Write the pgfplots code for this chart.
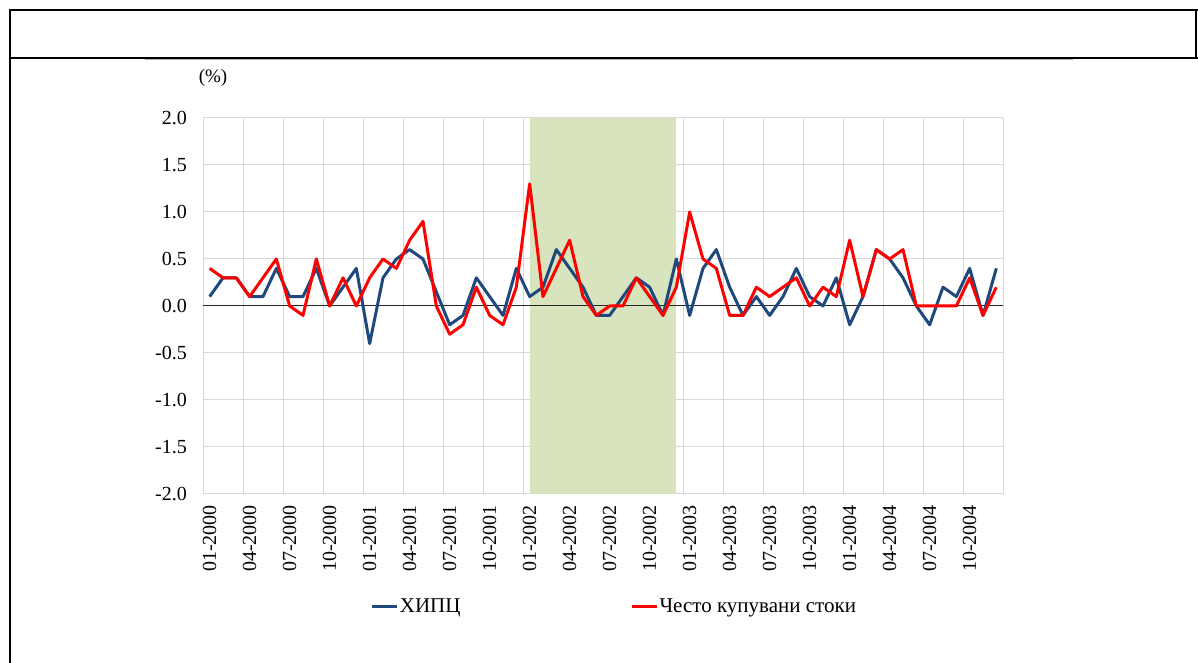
\documentclass[border=0pt]{standalone}
\usepackage{fontspec}
\setmainfont{Liberation Serif}
\usepackage{pgfplots}
\usepackage{pgfplotstable}
\pgfplotsset{compat=1.18}
\definecolor{hicp}{HTML}{1F497D}
\definecolor{shade}{HTML}{D7E4BD}
\definecolor{gridc}{HTML}{D9D9D9}
\pgfplotstableread{
i hicp food
0 0.1 0.4
1 0.3 0.3
2 0.3 0.3
3 0.1 0.1
4 0.1 0.3
5 0.4 0.5
6 0.1 0.0
7 0.1 -0.1
8 0.4 0.5
9 0.0 0.0
10 0.2 0.3
11 0.4 0.0
12 -0.4 0.3
13 0.3 0.5
14 0.5 0.4
15 0.6 0.7
16 0.5 0.9
17 0.15 0.0
18 -0.2 -0.3
19 -0.1 -0.2
20 0.3 0.2
21 0.1 -0.1
22 -0.1 -0.2
23 0.4 0.2
24 0.1 1.3
25 0.2 0.1
26 0.6 0.4
27 0.4 0.7
28 0.2 0.1
29 -0.1 -0.1
30 -0.1 0.0
31 0.1 0.0
32 0.3 0.3
33 0.2 0.1
34 -0.1 -0.1
35 0.5 0.2
36 -0.1 1.0
37 0.4 0.5
38 0.6 0.4
39 0.2 -0.1
40 -0.1 -0.1
41 0.1 0.2
42 -0.1 0.1
43 0.1 0.2
44 0.4 0.3
45 0.1 0.0
46 0.0 0.2
47 0.3 0.1
48 -0.2 0.7
49 0.1 0.1
50 0.6 0.6
51 0.5 0.5
52 0.3 0.6
53 0.0 0.0
54 -0.2 0.0
55 0.2 0.0
56 0.1 0.0
57 0.4 0.3
58 -0.1 -0.1
59 0.4 0.2
}\datatable
\begin{document}
\begin{tikzpicture}[x=1pt,y=1pt]
\useasboundingbox (0,0) rectangle (1198,663);
% frame
\draw[line width=2.5pt] (10,0) -- (10,653) -- (1198,653);
\draw[line width=2.5pt] (10,605) -- (1198,605);
\draw[line width=2pt] (1196,653) -- (1196,605);
\draw[gray!60, line width=1pt] (145,603) -- (1073,603);
\node[font=\fontsize{19}{21}\selectfont] at (213,585) {(\%)};
\begin{axis}[
  at={(203pt,169pt)}, anchor=south west,
  width=800pt, height=376pt, scale only axis,
  xmin=-0.5, xmax=59.5, ymin=-2, ymax=2,
  axis line style={draw=none},
  major tick length=0pt, minor tick length=0pt,
  xtick={0,3,...,57},
  xticklabels={01-2000,04-2000,07-2000,10-2000,01-2001,04-2001,07-2001,10-2001,01-2002,04-2002,07-2002,10-2002,01-2003,04-2003,07-2003,10-2003,01-2004,04-2004,07-2004,10-2004},
  minor xtick={-0.5,2.5,...,59.5},
  xmajorgrids=false, xminorgrids=true,
  ytick={-2,-1.5,...,2},
  yticklabels={-2.0,-1.5,-1.0,-0.5,0.0,0.5,1.0,1.5,2.0},
  ymajorgrids=true,
  grid style={gridc, line width=1pt},
  minor grid style={gridc, line width=1pt},
  xticklabel style={rotate=90, anchor=east, inner sep=0pt, font=\fontsize{20}{22}\selectfont},
  xticklabel shift=11pt,
  yticklabel style={anchor=east, inner sep=0pt, font=\fontsize{20}{22}\selectfont},
  yticklabel shift=16pt,
  legend columns=2,
  legend style={at={(0.209,-0.298)}, anchor=west, draw=none, fill=none, inner sep=0pt,
     font=\fontsize{21}{23}\selectfont,
     /tikz/every even column/.append style={column sep=168pt},
     nodes={inner sep=1.5pt}},
  legend cell align=left,
  legend image code/.code={\draw[#1,line width=3pt] (0pt,0pt) -- (25pt,0pt);},
]
\addplot[draw=none, fill=shade, forget plot] coordinates {(24,-2) (24,2) (35,2) (35,-2)} -- cycle;
\addplot[black!85, line width=1pt, forget plot] coordinates {(-0.5,0) (59.5,0)};
\addplot[hicp, line width=3pt, line join=round] table[x=i, y=hicp] {\datatable};
\addlegendentry{ХИПЦ}
\addplot[red, line width=3pt, line join=round] table[x=i, y=food] {\datatable};
\addlegendentry{Често купувани стоки}
\end{axis}
\end{tikzpicture}
\end{document}
